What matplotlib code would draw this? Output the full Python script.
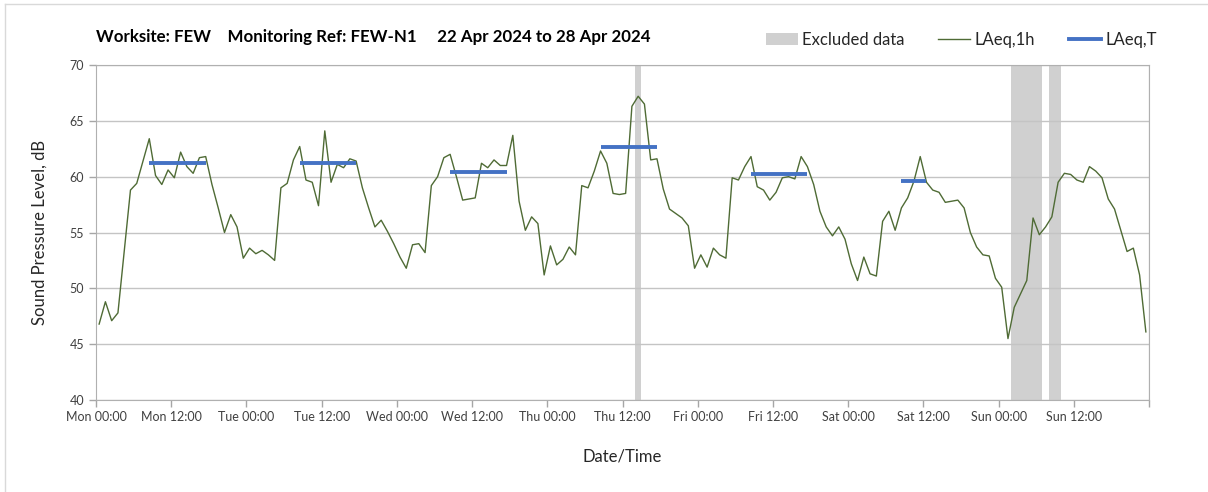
import numpy as np
import matplotlib
matplotlib.use('Agg')
from matplotlib import pyplot as plt
from matplotlib.patches import Patch
from matplotlib.lines import Line2D

plt.rcParams['font.family'] = ['Lato', 'DejaVu Sans']

# hourly LAeq,1h, Mon 00:00 .. Sun 23:00
laeq_1h = [46.8, 48.8, 47.1, 47.8, 53.3, 58.8, 59.4, 61.4, 63.4, 60.1, 59.3, 60.6,
           59.9, 62.2, 60.9, 60.3, 61.7, 61.8, 59.3, 57.2, 55.0, 56.6, 55.5, 52.7,
           53.6, 53.1, 53.4, 53.0, 52.5, 59.0, 59.4, 61.5, 62.7, 59.7, 59.5, 57.4,
           64.1, 59.5, 61.1, 60.8, 61.6, 61.4, 59.0, 57.2, 55.5, 56.1, 55.1, 54.0,
           52.8, 51.8, 53.9, 54.0, 53.2, 59.2, 60.0, 61.7, 62.0, 60.0, 57.9, 58.0,
           58.1, 61.2, 60.8, 61.5, 61.0, 61.0, 63.7, 57.8, 55.2, 56.4, 55.8, 51.2,
           53.8, 52.1, 52.6, 53.7, 53.0, 59.2, 59.0, 60.5, 62.3, 61.2, 58.5, 58.4,
           58.5, 66.3, 67.2, 66.5, 61.5, 61.6, 58.9, 57.1, 56.7, 56.3, 55.6, 51.8,
           53.0, 51.9, 53.6, 53.0, 52.7, 59.9, 59.7, 60.9, 61.8, 59.1, 58.8, 57.9,
           58.6, 59.9, 60.0, 59.8, 61.8, 60.9, 59.3, 56.9, 55.5, 54.7, 55.5, 54.4,
           52.2, 50.7, 52.8, 51.3, 51.1, 56.0, 56.9, 55.2, 57.2, 58.1, 59.6, 61.8,
           59.5, 58.8, 58.6, 57.7, 57.8, 57.9, 57.2, 55.0, 53.7, 53.0, 52.9, 50.9,
           50.1, 45.5, 48.3, 49.5, 50.7, 56.3, 54.8, 55.5, 56.4, 59.5, 60.3, 60.2,
           59.7, 59.5, 60.9, 60.5, 59.9, 58.0, 57.1, 55.2, 53.3, 53.6, 51.2, 46.1]

# LAeq,T periods (hours from Mon 00:00, mid-hour of first/last hour)
period_start = [8.5, 32.5, 56.5, 80.5, 104.5, 128.5]
period_end = [17.5, 41.5, 65.5, 89.5, 113.5, 132.5]
laeq_t = [61.2, 61.2, 60.4, 62.7, 60.2, 59.6]

# excluded data (hours from Mon 00:00)
excl_start = [86, 146, 152]
excl_end = [87, 151, 154]

days = ['Mon', 'Tue', 'Wed', 'Thu', 'Fri', 'Sat', 'Sun']

hours = np.arange(len(laeq_1h)) + 0.5

fig = plt.figure(figsize=(12.08, 4.92), dpi=100)
ax = fig.add_axes([96 / 1208, 1 - 400 / 492, 1053 / 1208, 335 / 492])

for s, e in zip(excl_start, excl_end):
    ax.axvspan(s, e, color='#d0d0d0', lw=0, zorder=1)

ax.plot(hours, laeq_1h, color='#4f6b35', lw=1.0, zorder=3)
for s, e, v in zip(period_start, period_end, laeq_t):
    ax.plot([s, e], [v, v], color='#4472c4', lw=2.8, solid_capstyle='butt', zorder=4)

ax.set_xlim(0, 168)
ax.set_ylim(40, 70)
ax.set_yticks(np.arange(40, 71, 5))
xt = np.arange(0, 168, 12)
ax.set_xticks(xt)
ax.set_xticklabels([f"{days[int(h // 24)]} {int(h % 24):02d}:00" for h in xt])
ax.set_xticks(np.arange(0, 169, 24), minor=True)
ax.grid(False)
ax.grid(axis='y', color='#c4c4c4', lw=1.0, zorder=0)
ax.grid(axis='x', which='minor', color='#dcdcdc', lw=1.0, zorder=0)
ax.tick_params(axis='both', which='both', colors='#a6a6a6', labelcolor='#404040',
               labelsize=9, length=5, width=1)
ax.tick_params(axis='x', which='minor', length=5)
ax.tick_params(axis='x', pad=3)
for sp in ax.spines.values():
    sp.set_color('#b0b0b0')

ax.set_ylabel('Sound Pressure Level, dB', fontsize=12, color='#262626', labelpad=16)
ax.set_xlabel('Date/Time', fontsize=12, color='#262626', labelpad=18)

fig.text(96 / 1208, 1 - 37 / 492, 'Worksite: FEW    Monitoring Ref: FEW-N1     22 Apr 2024 to 28 Apr 2024',
         fontsize=12.2, fontweight='bold', va='center', ha='left', color='black')

handles = [Patch(facecolor='#d0d0d0', edgecolor='none'),
           Line2D([], [], color='#4f6b35', lw=1.0),
           Line2D([], [], color='#4472c4', lw=2.8)]
fig.legend(handles, ['Excluded data', 'LAeq,1h', 'LAeq,T'], ncol=3, frameon=False,
           loc='center right', bbox_to_anchor=(1172 / 1208, 1 - 40 / 492),
           fontsize=12, columnspacing=2.0, handlelength=1.9, handletextpad=0.3,
           labelcolor='#262626')

# outer chart border (top and left edges visible)
fig.add_artist(Line2D([5 / 1208, 1], [1 - 4 / 492, 1 - 4 / 492], transform=fig.transFigure,
                      color='#d9d9d9', lw=1))
fig.add_artist(Line2D([5 / 1208, 5 / 1208], [0, 1 - 4 / 492], transform=fig.transFigure,
                      color='#d9d9d9', lw=1))

fig.savefig('out.png', dpi=100)
